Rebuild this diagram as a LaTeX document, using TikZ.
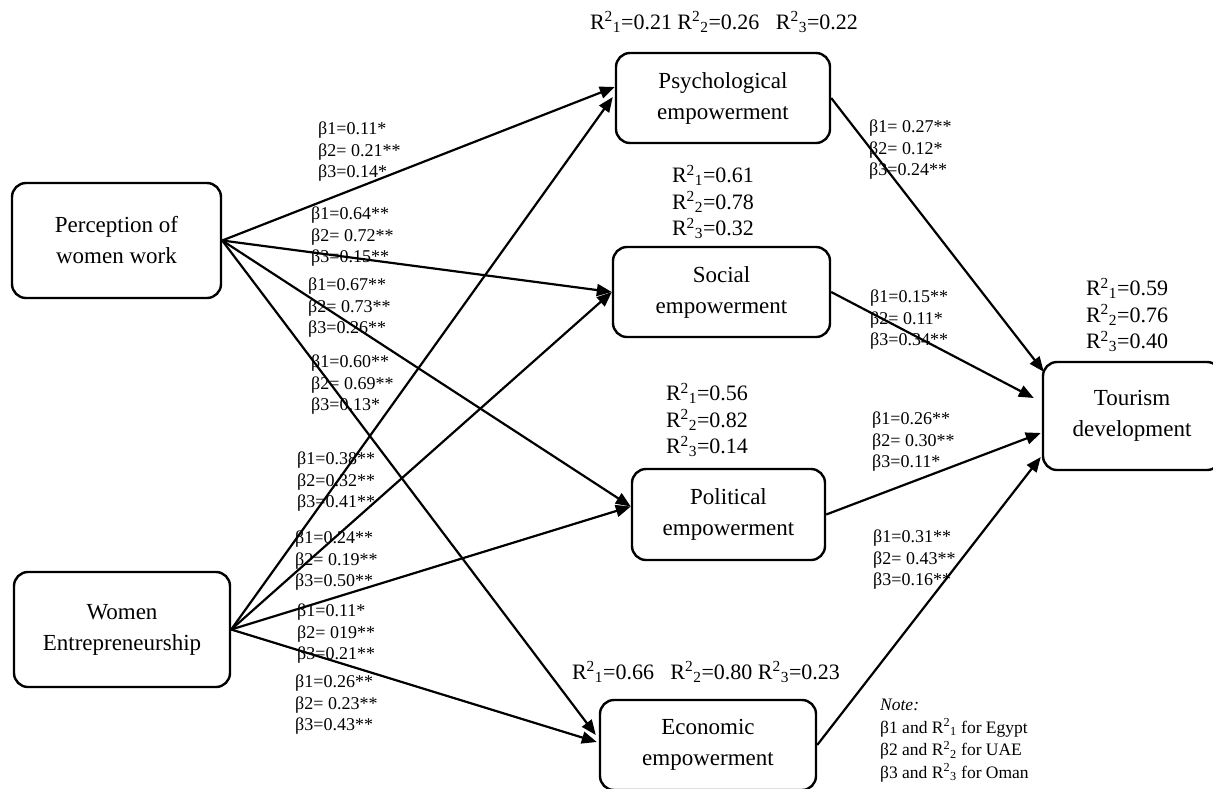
\documentclass[tikz,border=0pt]{standalone}
\usepackage{fontspec}
\setmainfont{Liberation Serif}
\usetikzlibrary{arrows.meta,calc}
\newcommand{\Rsqr}[1]{R\textsuperscript{2}\textsubscript{#1}}
\tikzset{
  box/.style={draw, line width=2.4pt, rounded corners=14pt, align=center,
    inner sep=0pt, font=\fontsize{23}{31}\selectfont},
  arr/.style={line width=2.2pt, -{Triangle[length=15pt,width=12pt]}},
  beta/.style={anchor=west, align=left, inner sep=0pt,
    font=\fontsize{18}{21.5}\selectfont},
  rsq/.style={align=center, inner sep=0pt, font=\fontsize{22}{26.5}\selectfont},
  notetext/.style={anchor=north west, align=left, inner sep=0pt,
    font=\fontsize{17.5}{22.5}\selectfont},
}
\begin{document}
\begin{tikzpicture}[x=1pt,y=-1pt]
\useasboundingbox (0,0) rectangle (1213,788);
% boxes
\node[box, minimum width=209pt, minimum height=115pt] (perc) at (116.5,240.5) {Perception of\\women work};
\node[box, minimum width=216pt, minimum height=115pt] (went) at (122,629.5) {Women\\Entrepreneurship};
\node[box, minimum width=214pt, minimum height=90pt] (psy) at (723,98) {Psychological\\empowerment};
\node[box, minimum width=217pt, minimum height=90pt] (soc) at (721.5,292) {Social\\empowerment};
\node[box, minimum width=193pt, minimum height=91pt] (pol) at (728.5,514.5) {Political\\empowerment};
\node[box, minimum width=216pt, minimum height=90pt] (eco) at (708,745) {Economic\\empowerment};
\node[box, minimum width=178pt, minimum height=108pt] (tour) at (1132,416) {Tourism\\development};
% left arrows
\draw[arr] (perc.east) -- ($(psy.west)+(0,-11)$);
\draw[arr] (went.east) -- ($(psy.west)+(-2,-1)$);
\draw[arr] (perc.east) -- (soc.west);
\draw[arr] (went.east) -- (soc.west);
\draw[arr] (perc.east) -- ($(pol.west)+(0,-8)$);
\draw[arr] (went.east) -- ($(pol.west)+(0,-8)$);
\draw[arr] (perc.east) -- ($(eco.west)+(-3,-10)$);
\draw[arr] (went.east) -- ($(eco.west)+(-2,-3)$);
% right arrows
\draw[arr] (psy.east) -- ($(tour.north west)+(2,11)$);
\draw[arr] (soc.east) -- ($(tour.west)+(-8,-18)$);
\draw[arr] (pol.east) -- ($(tour.west)+(-1,17)$);
\draw[arr] (eco.east) -- ($(tour.west)+(-1,41)$);
% beta labels
\node[beta] (bpp) at (318,152) {β1=0.11*\\β2= 0.21**\\β3=0.14*};
\node[beta] (bps) at (311,237) {β1=0.64**\\β2= 0.72**\\β3=0.15**};
\node[beta] (bpl) at (308,308) {β1=0.67**\\β2= 0.73**\\β3=0.26**};
\node[beta] (bpe) at (311,385) {β1=0.60**\\β2= 0.69**\\β3=0.13*};
\node[beta] (bwp) at (297,482) {β1=0.38**\\β2=0.32**\\β3=0.41**};
\node[beta] (bws) at (295,561) {β1=0.24**\\β2= 0.19**\\β3=0.50**};
\node[beta] (bwl) at (297,634) {β1=0.11*\\β2= 019**\\β3=0.21**};
\node[beta] (bwe) at (295,705) {β1=0.26**\\β2= 0.23**\\β3=0.43**};
\node[beta] (bpt) at (869,150) {β1= 0.27**\\β2= 0.12*\\β3=0.24**};
\node[beta] (bst) at (870,320) {β1=0.15**\\β2= 0.11*\\β3=0.34**};
\node[beta] (blt) at (872,442) {β1=0.26**\\β2= 0.30**\\β3=0.11*};
\node[beta] (bet) at (873,560) {β1=0.31**\\β2= 0.43**\\β3=0.16**};
% R squared
\node[rsq] (rpsy) at (724,22) {\Rsqr{1}=0.21 \Rsqr{2}=0.26\hspace{0.75em}\Rsqr{3}=0.22};
\node[rsq] (rsoc) at (713,202) {\Rsqr{1}=0.61\\\Rsqr{2}=0.78\\\Rsqr{3}=0.32};
\node[rsq] (rpol) at (707,420) {\Rsqr{1}=0.56\\\Rsqr{2}=0.82\\\Rsqr{3}=0.14};
\node[rsq] (rtour) at (1127,315) {\Rsqr{1}=0.59\\\Rsqr{2}=0.76\\\Rsqr{3}=0.40};
\node[rsq] (reco) at (706,672) {\Rsqr{1}=0.66\hspace{0.75em}\Rsqr{2}=0.80 \Rsqr{3}=0.23};
% note
\node[notetext] (note) at (880,699) {\textit{Note:}\\β1 and \Rsqr{1} for Egypt\\β2 and \Rsqr{2} for UAE\\β3 and \Rsqr{3} for Oman};
\end{tikzpicture}
\end{document}
